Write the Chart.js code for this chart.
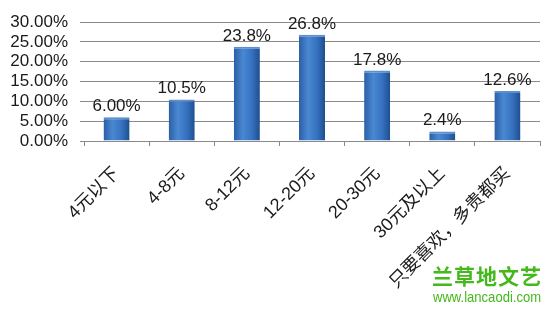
<!DOCTYPE html>
<html>
<head>
<meta charset="utf-8">
<script src="https://cdn.jsdelivr.net/npm/chart.js@4"></script>
<style>
  html, body { margin: 0; padding: 0; background: #fff; }
  #wrap { position: relative; width: 553px; height: 311px; }
  #mark1 { position: absolute; left: 432px; top: 260px; font: bold 21px "Noto Sans CJK SC", sans-serif; color: #45b81c; letter-spacing: 1px; }
  #mark2 { position: absolute; left: 433px; top: 288px; font: 15px "Liberation Sans", Arial, sans-serif; color: #45b81c;
           transform: scaleX(0.87); transform-origin: left top; white-space: nowrap; }
</style>
</head>
<body>
<div id="wrap">
  <canvas id="c" width="553" height="311"></canvas>
  <div id="mark1">兰草地文艺</div>
  <div id="mark2">www.lancaodi.com</div>
</div>
<script>
// 价格区间
const categories = ["4元以下", "4-8元", "8-12元", "12-20元", "20-30元", "30元及以上", "只要喜欢，多贵都买"];
// 占比 (%)
const shares = [6.0, 10.5, 23.8, 26.8, 17.8, 2.4, 12.6];
// 柱顶标注
const shareLabels = ["6.00%", "10.5%", "23.8%", "26.8%", "17.8%", "2.4%", "12.6%"];
const yTicks = [0, 5, 10, 15, 20, 25, 30];

const FONT = '"Liberation Sans", Arial, "Noto Sans CJK SC", sans-serif';

// 柱子用横向渐变，模仿原图的立体效果
const barShade = {
  id: "barShade",
  beforeDatasetsDraw(chart) {
    const ctx = chart.ctx;
    chart.getDatasetMeta(0).data.forEach((bar) => {
      const x0 = bar.x - bar.width / 2;
      const x1 = bar.x + bar.width / 2;
      const g = ctx.createLinearGradient(x0, 0, x1, 0);
      g.addColorStop(0, "#2a5fa6");
      g.addColorStop(0.35, "#4a88d2");
      g.addColorStop(0.7, "#3571bf");
      g.addColorStop(1, "#1f4e8e");
      bar.options.backgroundColor = g;
    });
  },
};

const valueLabels = {
  id: "valueLabels",
  afterDatasetsDraw(chart) {
    const ctx = chart.ctx;
    ctx.save();
    ctx.font = "17px " + FONT;
    ctx.fillStyle = "#1a1a1a";
    ctx.textAlign = "center";
    ctx.textBaseline = "alphabetic";
    chart.getDatasetMeta(0).data.forEach((bar, i) => {
      ctx.fillText(shareLabels[i], bar.x, bar.y - 6);
    });
    ctx.restore();
  },
};

new Chart(document.getElementById("c"), {
  type: "bar",
  data: {
    labels: categories,
    datasets: [
      {
        data: shares,
        // scriptable so each bar gets its own options object
        backgroundColor: () => "#3571bf",
        borderColor: "#5b8fd0",
        borderWidth: { top: 2, left: 0, right: 0, bottom: 0 },
        borderSkipped: "bottom",
        barPercentage: 0.4,
        categoryPercentage: 1,
      },
    ],
  },
  options: {
    responsive: false,
    animation: false,
    layout: { padding: { top: 12, right: 13, left: 0, bottom: 0 } },
    plugins: {
      legend: { display: false },
      tooltip: { enabled: false },
    },
    scales: {
      x: {
        grid: {
          offset: true,
          drawOnChartArea: false,
          drawTicks: true,
          tickLength: 5,
          color: "#8a8a8a",
        },
        border: { display: true, color: "#8a8a8a" },
        ticks: {
          minRotation: 45,
          maxRotation: 45,
          autoSkip: false,
          padding: 17,
          color: "#1a1a1a",
          font: { family: FONT, size: 18 },
        },
        afterFit: (axis) => { axis.height = 170; },
      },
      y: {
        min: 0,
        max: 30,
        afterBuildTicks: (axis) => { axis.ticks = yTicks.map((v) => ({ value: v })); },
        grid: { color: "#8a8a8a", tickLength: 4 },
        border: { display: false },
        ticks: {
          autoSkip: false,
          padding: 12,
          color: "#1a1a1a",
          font: { family: FONT, size: 17 },
          callback: (v) => v.toFixed(2) + "%",
        },
        afterFit: (axis) => { axis.width = 84; },
      },
    },
  },
  plugins: [barShade, valueLabels],
});
</script>
</body>
</html>
